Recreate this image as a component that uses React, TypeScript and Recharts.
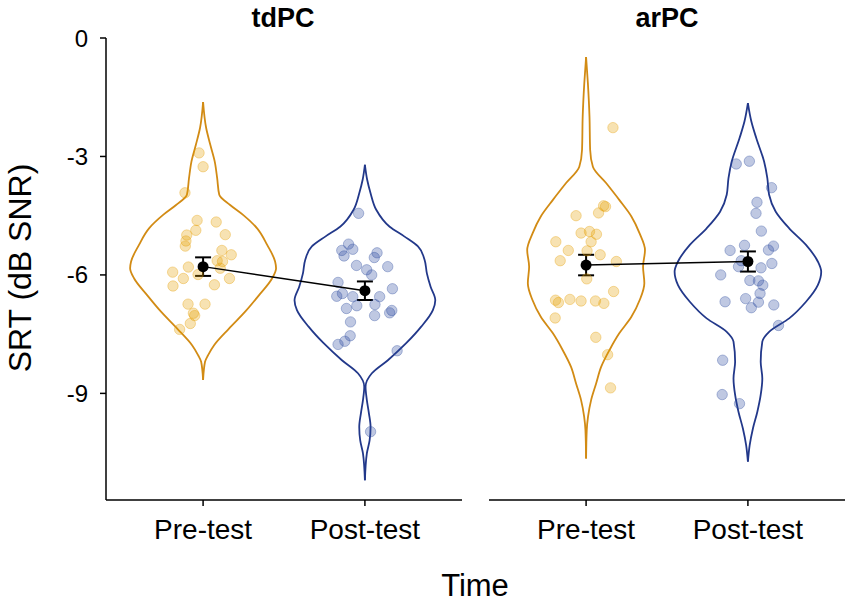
import { ComposedChart, ErrorBar, Scatter, XAxis, YAxis } from 'recharts'

const groups = ['Pre-test', 'Post-test']
const yTicks = [0, -3, -6, -9]

// violin outlines: SRT value and half-width (x-axis units), top to bottom
const tdPreViolin = [
  { y: -1.62, w: 0 }, { y: -2.28, w: 0.019 }, { y: -2.71, w: 0.045 }, { y: -3.13, w: 0.072 },
  { y: -3.55, w: 0.087 }, { y: -3.97, w: 0.1 }, { y: -4.23, w: 0.167 }, { y: -4.48, w: 0.247 },
  { y: -4.82, w: 0.334 }, { y: -5.24, w: 0.396 }, { y: -5.66, w: 0.445 }, { y: -5.83, w: 0.451 },
  { y: -6.09, w: 0.426 }, { y: -6.51, w: 0.346 }, { y: -6.93, w: 0.26 }, { y: -7.36, w: 0.16 },
  { y: -7.78, w: 0.068 }, { y: -8.03, w: 0.031 }, { y: -8.2, w: 0.012 }, { y: -8.66, w: 0 },
]
const tdPostViolin = [
  { y: -3.21, w: 0 }, { y: -3.59, w: 0.014 }, { y: -3.93, w: 0.035 }, { y: -4.35, w: 0.07 },
  { y: -4.78, w: 0.153 }, { y: -5.03, w: 0.245 }, { y: -5.28, w: 0.328 }, { y: -5.62, w: 0.369 },
  { y: -5.96, w: 0.383 }, { y: -6.3, w: 0.406 }, { y: -6.64, w: 0.435 }, { y: -6.89, w: 0.42 },
  { y: -7.31, w: 0.348 }, { y: -7.73, w: 0.255 }, { y: -8.16, w: 0.142 }, { y: -8.49, w: 0.043 },
  { y: -8.83, w: 0.004 }, { y: -9.17, w: 0.012 }, { y: -9.51, w: 0.025 }, { y: -9.85, w: 0.035 },
  { y: -10.19, w: 0.029 }, { y: -10.52, w: 0.012 }, { y: -11.2, w: 0 },
]
const arPreViolin = [
  { y: -0.48, w: 0 }, { y: -1.14, w: 0.011 }, { y: -1.99, w: 0.021 }, { y: -2.83, w: 0.025 },
  { y: -3.26, w: 0.042 }, { y: -3.68, w: 0.125 }, { y: -4.1, w: 0.205 }, { y: -4.52, w: 0.28 },
  { y: -4.94, w: 0.33 }, { y: -5.37, w: 0.364 }, { y: -5.79, w: 0.352 }, { y: -6.21, w: 0.36 },
  { y: -6.63, w: 0.332 }, { y: -7.06, w: 0.28 }, { y: -7.48, w: 0.205 }, { y: -7.9, w: 0.145 },
  { y: -8.33, w: 0.093 }, { y: -8.75, w: 0.062 }, { y: -9.17, w: 0.031 }, { y: -9.59, w: 0.012 },
  { y: -9.93, w: 0.004 }, { y: -10.65, w: 0 },
]
const arPostViolin = [
  { y: -1.65, w: 0 }, { y: -2.11, w: 0.021 }, { y: -2.54, w: 0.052 }, { y: -3.13, w: 0.1 },
  { y: -3.55, w: 0.12 }, { y: -3.97, w: 0.131 }, { y: -4.4, w: 0.172 }, { y: -4.82, w: 0.255 },
  { y: -5.24, w: 0.359 }, { y: -5.66, w: 0.432 }, { y: -5.92, w: 0.453 }, { y: -6.26, w: 0.432 },
  { y: -6.68, w: 0.359 }, { y: -7.1, w: 0.255 }, { y: -7.44, w: 0.131 }, { y: -7.69, w: 0.089 },
  { y: -8.2, w: 0.079 }, { y: -8.62, w: 0.089 }, { y: -9.04, w: 0.079 }, { y: -9.47, w: 0.058 },
  { y: -9.89, w: 0.031 }, { y: -10.31, w: 0.011 }, { y: -10.73, w: 0 },
]

// individual participants (jittered x)
const tdPreDots = [
  { x: 0.975, y: -2.91 }, { x: 1.0, y: -3.26 }, { x: 0.888, y: -3.92 }, { x: 0.963, y: -4.62 },
  { x: 1.081, y: -4.66 }, { x: 0.955, y: -4.87 }, { x: 1.137, y: -4.98 }, { x: 0.899, y: -4.99 },
  { x: 0.894, y: -5.14 }, { x: 0.89, y: -5.27 }, { x: 1.116, y: -5.38 }, { x: 1.174, y: -5.49 },
  { x: 1.087, y: -5.64 }, { x: 1.12, y: -5.66 }, { x: 0.909, y: -5.8 }, { x: 1.106, y: -5.83 },
  { x: 0.812, y: -5.93 }, { x: 0.969, y: -5.99 }, { x: 0.878, y: -6.09 }, { x: 1.163, y: -6.09 },
  { x: 1.07, y: -6.25 }, { x: 0.814, y: -6.28 }, { x: 0.907, y: -6.74 }, { x: 1.012, y: -6.74 },
  { x: 0.94, y: -6.97 }, { x: 0.948, y: -7.03 }, { x: 0.921, y: -7.23 }, { x: 0.855, y: -7.38 },
]
const tdPostDots = [
  { x: 1.961, y: -4.44 }, { x: 1.899, y: -5.22 }, { x: 1.857, y: -5.38 }, { x: 1.925, y: -5.35 },
  { x: 1.871, y: -5.52 }, { x: 2.075, y: -5.44 }, { x: 2.058, y: -5.56 }, { x: 2.141, y: -5.79 },
  { x: 1.948, y: -5.76 }, { x: 2.011, y: -5.87 }, { x: 2.042, y: -6.0 }, { x: 1.834, y: -6.19 },
  { x: 2.17, y: -6.35 }, { x: 1.861, y: -6.47 }, { x: 1.826, y: -6.54 }, { x: 1.925, y: -6.55 },
  { x: 2.091, y: -6.55 }, { x: 1.95, y: -6.78 }, { x: 1.886, y: -6.85 }, { x: 2.062, y: -6.75 },
  { x: 2.166, y: -6.9 }, { x: 2.153, y: -6.96 }, { x: 2.06, y: -7.03 }, { x: 1.911, y: -7.19 },
  { x: 1.909, y: -7.54 }, { x: 1.876, y: -7.68 }, { x: 1.834, y: -7.76 }, { x: 2.199, y: -7.92 },
  { x: 2.035, y: -9.97 },
]
const arPreDots = [
  { x: 1.166, y: -2.27 }, { x: 1.12, y: -4.27 }, { x: 1.108, y: -4.25 }, { x: 1.077, y: -4.43 },
  { x: 0.938, y: -4.5 }, { x: 0.969, y: -4.94 }, { x: 1.021, y: -4.9 }, { x: 1.064, y: -4.97 },
  { x: 1.031, y: -5.16 }, { x: 0.813, y: -5.16 }, { x: 0.89, y: -5.38 }, { x: 1.006, y: -5.39 },
  { x: 1.087, y: -5.49 }, { x: 0.84, y: -5.64 }, { x: 1.187, y: -5.66 }, { x: 1.004, y: -6.1 },
  { x: 1.17, y: -6.42 }, { x: 0.811, y: -6.64 }, { x: 0.829, y: -6.7 }, { x: 0.9, y: -6.62 },
  { x: 0.969, y: -6.66 }, { x: 1.058, y: -6.66 }, { x: 1.11, y: -6.72 }, { x: 0.809, y: -7.09 },
  { x: 1.06, y: -7.58 }, { x: 1.133, y: -8.02 }, { x: 1.151, y: -8.86 },
]
const arPostDots = [
  { x: 1.928, y: -3.19 }, { x: 2.009, y: -3.12 }, { x: 2.146, y: -3.79 }, { x: 2.056, y: -4.16 },
  { x: 2.05, y: -4.44 }, { x: 2.083, y: -4.89 }, { x: 1.979, y: -5.25 }, { x: 1.89, y: -5.38 },
  { x: 2.127, y: -5.37 }, { x: 2.158, y: -5.27 }, { x: 1.959, y: -5.64 }, { x: 1.942, y: -5.79 },
  { x: 2.148, y: -5.71 }, { x: 2.081, y: -5.82 }, { x: 1.832, y: -6.0 }, { x: 2.012, y: -6.14 },
  { x: 2.065, y: -6.15 }, { x: 2.092, y: -6.26 }, { x: 2.075, y: -6.47 }, { x: 1.859, y: -6.68 },
  { x: 1.986, y: -6.6 }, { x: 2.065, y: -6.69 }, { x: 2.021, y: -6.83 }, { x: 2.16, y: -6.76 },
  { x: 2.189, y: -7.28 }, { x: 1.844, y: -8.16 }, { x: 1.841, y: -9.03 }, { x: 1.948, y: -9.26 },
]

// group means with standard error
const tdMeans = [
  { x: 1, y: -5.79, se: 0.235 },
  { x: 2, y: -6.4, se: 0.235 },
]
const arMeans = [
  { x: 1, y: -5.75, se: 0.26 },
  { x: 2, y: -5.66, se: 0.255 },
]

const FONT = '"Liberation Sans", Arial, sans-serif'
const ORANGE = '#D28B14'
const BLUE = '#22388A'

type Pt = { y: number; w: number }

const side = (profile: Pt[], center: number, sign: number) =>
  profile.map((p) => ({ x: center + sign * p.w, y: p.y }))

const noShape = () => <g />

const dotShape = (color: string) => (props: any) => (
  <circle
    cx={props.cx}
    cy={props.cy}
    r={5.2}
    fill={color}
    fillOpacity={0.3}
    stroke={color}
    strokeOpacity={0.35}
    strokeWidth={1}
  />
)

const meanShape = (props: any) => <circle cx={props.cx} cy={props.cy} r={5.5} fill="#000" />

interface PanelProps {
  width: number
  left: number
  right: number
  showY: boolean
  preViolin: Pt[]
  postViolin: Pt[]
  preDots: { x: number; y: number }[]
  postDots: { x: number; y: number }[]
  means: { x: number; y: number; se: number }[]
}

function Panel({ width, left, right, showY, preViolin, postViolin, preDots, postDots, means }: PanelProps) {
  const violins = [
    { profile: preViolin, center: 1, color: ORANGE },
    { profile: postViolin, center: 2, color: BLUE },
  ]
  return (
    <ComposedChart width={width} height={603} margin={{ top: 38, right, left, bottom: 0 }}>
      <XAxis
        type="number"
        dataKey="x"
        domain={[0.4, 2.6]}
        ticks={[1, 2]}
        allowDataOverflow
        tickFormatter={(v: number) => groups[v - 1]}
        height={103}
        tickSize={6}
        tickMargin={13}
        axisLine={{ stroke: '#000', strokeWidth: 1.5 }}
        tickLine={{ stroke: '#000', strokeWidth: 1.5 }}
        tick={{ fontSize: 28, fill: '#000', fontFamily: FONT }}
      />
      <YAxis
        type="number"
        dataKey="y"
        domain={[-11.7, 0]}
        ticks={yTicks}
        allowDataOverflow
        hide={!showY}
        width={106}
        tickSize={6}
        tickMargin={12}
        axisLine={{ stroke: '#000', strokeWidth: 1.5 }}
        tickLine={{ stroke: '#000', strokeWidth: 1.5 }}
        tick={{ fontSize: 24, fill: '#000', fontFamily: FONT }}
      />
      {violins.flatMap((v, i) =>
        [1, -1].map((sign) => (
          <Scatter
            key={`v${i}${sign}`}
            data={side(v.profile, v.center, sign)}
            line={{ stroke: v.color, strokeWidth: 1.8, fill: 'none' }}
            lineJointType="monotoneY"
            shape={noShape}
            isAnimationActive={false}
          />
        ))
      )}
      <Scatter data={preDots} shape={dotShape('#E69F00')} isAnimationActive={false} />
      <Scatter data={postDots} shape={dotShape('#2B4A9E')} isAnimationActive={false} />
      <Scatter
        data={means}
        line={{ stroke: '#000', strokeWidth: 1.5 }}
        shape={meanShape}
        isAnimationActive={false}
      >
        <ErrorBar dataKey="se" direction="y" width={8} stroke="#000" strokeWidth={2} />
      </Scatter>
    </ComposedChart>
  )
}

export default function App() {
  return (
    <div style={{ position: 'absolute', left: 0, top: 0, width: 851, height: 603, background: '#fff' }}>
      <div style={{ position: 'absolute', left: 0, top: 0 }}>
        <Panel
          width={470}
          left={0}
          right={8}
          showY
          preViolin={tdPreViolin}
          postViolin={tdPostViolin}
          preDots={tdPreDots}
          postDots={tdPostDots}
          means={tdMeans}
        />
      </div>
      <div style={{ position: 'absolute', left: 430, top: 0 }}>
        <Panel
          width={421}
          left={59}
          right={6}
          showY={false}
          preViolin={arPreViolin}
          postViolin={arPostViolin}
          preDots={arPreDots}
          postDots={arPostDots}
          means={arMeans}
        />
      </div>
      <svg
        width={851}
        height={603}
        style={{ position: 'absolute', left: 0, top: 0, pointerEvents: 'none' }}
        fontFamily={FONT}
      >
        <text x={283} y={27} textAnchor="middle" fontSize={27} fontWeight="bold">tdPC</text>
        <text x={667} y={27} textAnchor="middle" fontSize={27} fontWeight="bold">arPC</text>
        <text transform="translate(31,268) rotate(-90)" textAnchor="middle" fontSize={32}>
          SRT (dB SNR)
        </text>
        <text x={475} y={596} textAnchor="middle" fontSize={31}>Time</text>
      </svg>
    </div>
  )
}
